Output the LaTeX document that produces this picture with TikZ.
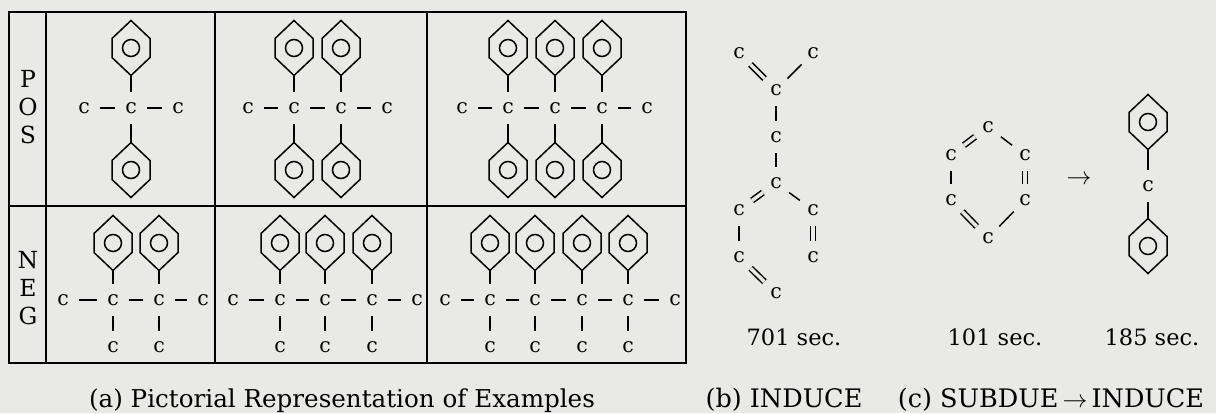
\documentclass[tikz,border=0pt]{standalone}
\usepackage{fontspec}
\setmainfont{DejaVu Serif}
\definecolor{paper}{RGB}{233,233,231}
\tikzset{
  atom/.style={circle, inner sep=0pt, font=\fontsize{20.5}{20}\selectfont},
  bond/.style={line width=1.5pt, shorten <=8pt, shorten >=8pt},
  dbond/.style={bond, double=paper, double distance=3.5pt},
  stem/.style={line width=1.5pt, shorten >=8pt},
  rowtext/.style={align=center, inner sep=0pt, font=\fontsize{23.5}{28}\selectfont},
  timetext/.style={anchor=base, inner sep=0pt, font=\fontsize{22.5}{24}\selectfont},
  captext/.style={anchor=base, inner sep=0pt, font=\fontsize{25.5}{28}\selectfont},
  ring/.pic={
    \draw[line width=1.5pt] (0,-27.5) -- (19,-9.5) -- (19,9.5) -- (0,27.5) -- (-19,9.5) -- (-19,-9.5) -- cycle;
    \draw[line width=1.5pt] (0,0) circle (8.5pt);
    \coordinate (-top) at (0,-27.5);
    \coordinate (-bot) at (0,27.5);
  }
}
\begin{document}
\begin{tikzpicture}[x=1pt,y=-1pt]
\useasboundingbox (0,0) rectangle (1216,413);
\fill[paper] (0,0) rectangle (1216,413);

% Table
\draw[line width=1.7pt] (9,12) rectangle (686,363);
\draw[line width=1.7pt] (9,206) -- (686,206);
\foreach \x in {46,215,427} \draw[line width=1.7pt] (\x,12) -- (\x,363);
\node[rowtext] (pos) at (28,107) {P\\O\\S};
\node[rowtext] (neg) at (28,288) {N\\E\\G};

% POS, column 1
\foreach \x [count=\i] in {84,131,178} \node[atom] (pa\i) at (\x,108) {c};
\foreach \i/\j in {1/2,2/3} \draw[bond] (pa\i) -- (pa\j);
\foreach \x/\i in {131/2} {
  \pic (pau\i) at (\x,48) {ring};
  \pic (pad\i) at (\x,170) {ring};
  \draw[stem] (pau\i-bot) -- (pa\i);
  \draw[stem] (pad\i-top) -- (pa\i);
}

% POS, column 2
\foreach \x [count=\i] in {248,294,341,387} \node[atom] (pb\i) at (\x,108) {c};
\foreach \i/\j in {1/2,2/3,3/4} \draw[bond] (pb\i) -- (pb\j);
\foreach \x/\i in {294/2,341/3} {
  \pic (pbu\i) at (\x,48) {ring};
  \pic (pbd\i) at (\x,170) {ring};
  \draw[stem] (pbu\i-bot) -- (pb\i);
  \draw[stem] (pbd\i-top) -- (pb\i);
}

% POS, column 3
\foreach \x [count=\i] in {462,508,555,602,647} \node[atom] (pc\i) at (\x,108) {c};
\foreach \i/\j in {1/2,2/3,3/4,4/5} \draw[bond] (pc\i) -- (pc\j);
\foreach \x/\i in {508/2,555/3,602/4} {
  \pic (pcu\i) at (\x,48) {ring};
  \pic (pcd\i) at (\x,170) {ring};
  \draw[stem] (pcu\i-bot) -- (pc\i);
  \draw[stem] (pcd\i-top) -- (pc\i);
}

% NEG, column 1
\foreach \x [count=\i] in {63,113,159,203} \node[atom] (na\i) at (\x,300) {c};
\foreach \i/\j in {1/2,2/3,3/4} \draw[bond] (na\i) -- (na\j);
\foreach \x/\i in {113/2,159/3} {
  \pic (nau\i) at (\x,243) {ring};
  \node[atom] (nad\i) at (\x,347) {c};
  \draw[stem] (nau\i-bot) -- (na\i);
  \draw[bond] (na\i) -- (nad\i);
}

% NEG, column 2
\foreach \x [count=\i] in {233,280,325,372,417} \node[atom] (nb\i) at (\x,300) {c};
\foreach \i/\j in {1/2,2/3,3/4,4/5} \draw[bond] (nb\i) -- (nb\j);
\foreach \x/\i in {280/2,325/3,372/4} {
  \pic (nbu\i) at (\x,243) {ring};
  \node[atom] (nbd\i) at (\x,347) {c};
  \draw[stem] (nbu\i-bot) -- (nb\i);
  \draw[bond] (nb\i) -- (nbd\i);
}

% NEG, column 3
\foreach \x [count=\i] in {445,490,535,582,628,675} \node[atom] (nc\i) at (\x,300) {c};
\foreach \i/\j in {1/2,2/3,3/4,4/5,5/6} \draw[bond] (nc\i) -- (nc\j);
\foreach \x/\i in {490/2,535/3,582/4,628/5} {
  \pic (ncu\i) at (\x,243) {ring};
  \node[atom] (ncd\i) at (\x,347) {c};
  \draw[stem] (ncu\i-bot) -- (nc\i);
  \draw[bond] (nc\i) -- (ncd\i);
}

% INDUCE result
\foreach \n/\x/\y in {b1/739/53, b2/813/53, b3/776/90, b4/776/137, b5/776/183,
                      b6/739/210, b7/813/210, b8/739/257, b9/813/257, b10/776/293}
  \node[atom] (\n) at (\x,\y) {c};
\foreach \a/\b/\s in {b1/b3/dbond, b2/b3/bond, b3/b4/bond, b4/b5/bond, b5/b6/dbond,
                      b5/b7/bond, b6/b8/bond, b7/b9/dbond, b8/b10/dbond}
  \draw[\s] (\a) -- (\b);

% SUBDUE ring, then INDUCE
\foreach \n/\x/\y in {r1/988/127, r2/1025/155, r3/1025/200, r4/988/238, r5/951/200, r6/951/155}
  \node[atom] (\n) at (\x,\y) {c};
\foreach \a/\b/\s in {r6/r1/dbond, r1/r2/bond, r2/r3/dbond, r3/r4/bond, r4/r5/dbond, r5/r6/bond}
  \draw[\s] (\a) -- (\b);
\node[font=\fontsize{28}{28}\selectfont] (arr) at (1079,180) {$\rightarrow$};
\pic (qu) at (1148,122) {ring};
\node[atom] (q) at (1148,186) {c};
\pic (qd) at (1148,246) {ring};
\draw[stem] (qu-bot) -- (q);
\draw[stem] (qd-top) -- (q);

% Times and captions
\node[timetext] (tb) at (794,345) {701 sec.};
\node[timetext] (tc) at (995,345) {101 sec.};
\node[timetext] (td) at (1152,345) {185 sec.};
\node[captext, font=\fontsize{24.6}{28}\selectfont] (capa) at (342,407) {(a) Pictorial Representation of Examples};
\node[captext] (capb) at (784,407) {(b) INDUCE};
\node[captext] (capc) at (1051,407) {(c) SUBDUE$\,\rightarrow\,$INDUCE};
\end{tikzpicture}
\end{document}
